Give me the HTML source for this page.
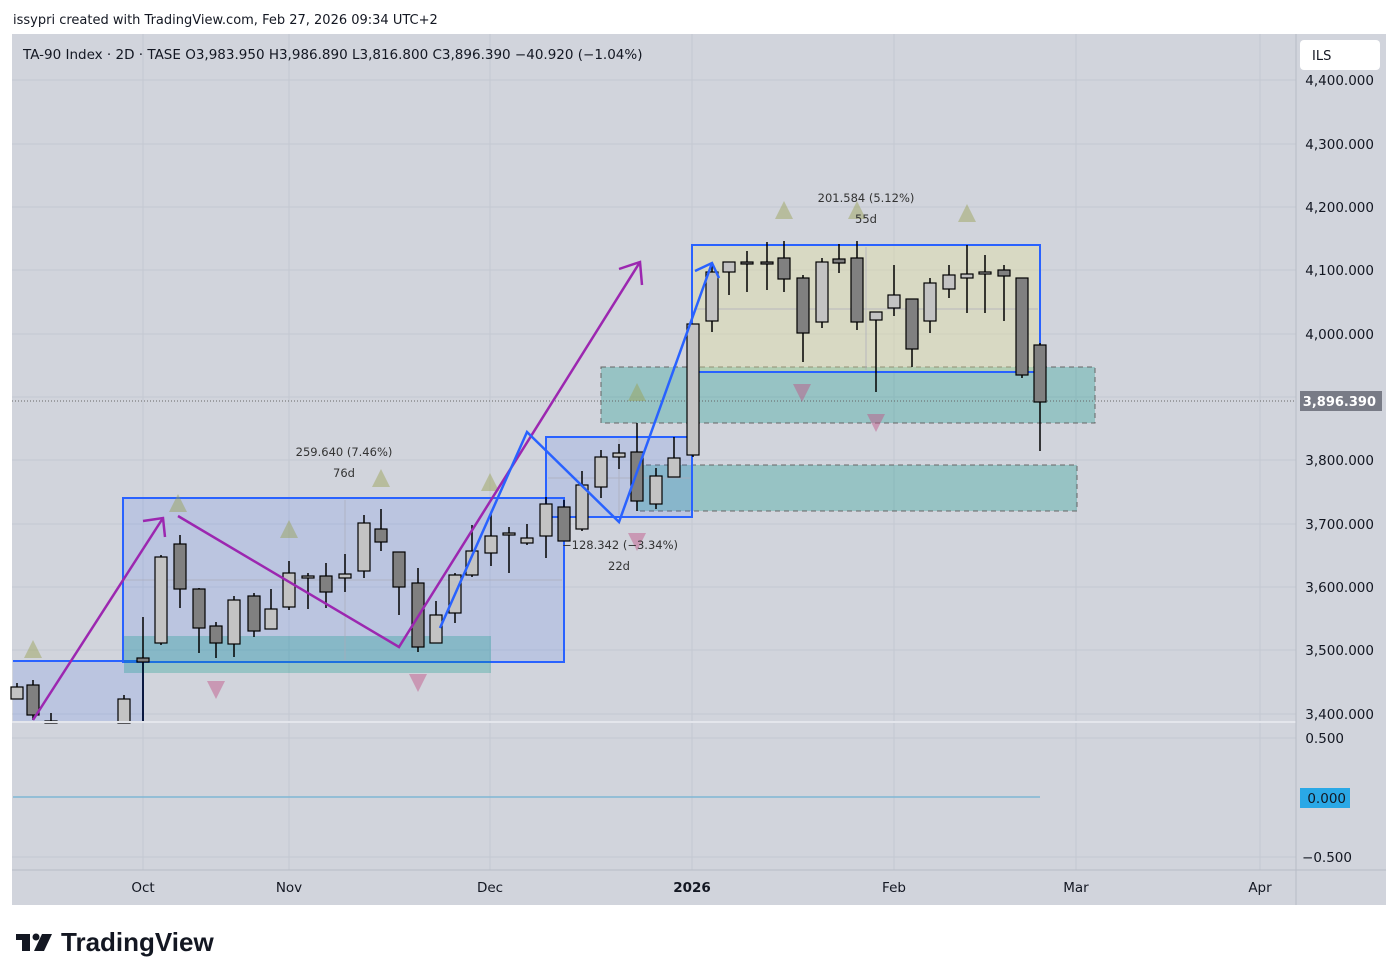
<!DOCTYPE html>
<html><head><meta charset="utf-8"><style>
body{margin:0;background:#fff;width:1399px;height:980px;overflow:hidden;font-family:"DejaVu Sans",sans-serif;}
svg{position:absolute;left:0;top:0}
</style></head><body>
<svg id="s" width="1399" height="980" xmlns="http://www.w3.org/2000/svg" font-family="DejaVu Sans, sans-serif">
<text x="13" y="24" font-size="13" fill="#131722">issypri created with TradingView.com, Feb 27, 2026 09:34 UTC+2</text>
<rect x="12" y="34" width="1374" height="871" fill="#d1d4dc"/>
<g stroke="#c4c8d2" stroke-width="1">
<line x1="12" x2="1296" y1="80" y2="80"/><line x1="12" x2="1296" y1="144" y2="144"/><line x1="12" x2="1296" y1="207" y2="207"/><line x1="12" x2="1296" y1="270" y2="270"/><line x1="12" x2="1296" y1="334" y2="334"/><line x1="12" x2="1296" y1="397" y2="397"/><line x1="12" x2="1296" y1="460" y2="460"/><line x1="12" x2="1296" y1="524" y2="524"/><line x1="12" x2="1296" y1="587" y2="587"/><line x1="12" x2="1296" y1="650" y2="650"/><line x1="12" x2="1296" y1="714" y2="714"/>
<line x1="12" x2="1296" y1="738" y2="738"/><line x1="12" x2="1296" y1="857" y2="857"/>
<line x1="143" x2="143" y1="34" y2="870"/><line x1="289" x2="289" y1="34" y2="870"/><line x1="490" x2="490" y1="34" y2="870"/><line x1="692" x2="692" y1="34" y2="870"/><line x1="894" x2="894" y1="34" y2="870"/><line x1="1076" x2="1076" y1="34" y2="870"/><line x1="1260" x2="1260" y1="34" y2="870"/>
</g>
<rect x="13" y="661" width="130" height="61" fill="rgba(41,98,255,0.13)"/>
<line x1="13" x2="143" y1="661" y2="661" stroke="#2962ff" stroke-width="2"/>
<line x1="143" x2="143" y1="661" y2="722" stroke="#2962ff" stroke-width="2"/>
<rect x="123" y="498" width="441" height="164" fill="rgba(41,98,255,0.13)" stroke="#2962ff" stroke-width="2"/>
<rect x="124" y="636" width="367" height="37" fill="rgba(0,150,136,0.28)"/>
<rect x="601" y="367" width="494" height="56" fill="rgba(0,150,136,0.28)" stroke="#666" stroke-dasharray="5,4"/>
<rect x="637" y="465" width="440" height="46" fill="rgba(0,150,136,0.28)" stroke="#666" stroke-dasharray="5,4"/>
<rect x="546" y="437" width="146" height="80" fill="rgba(41,98,255,0.13)" stroke="#2962ff" stroke-width="2"/>
<rect x="692" y="245" width="348" height="127" fill="rgba(230,225,150,0.35)" stroke="#2962ff" stroke-width="2"/>
<g stroke="#aab" stroke-width="1" opacity="0.7">
<line x1="345" x2="345" y1="500" y2="660"/><line x1="124" x2="562" y1="580" y2="580"/>
<line x1="866" x2="866" y1="247" y2="370"/><line x1="694" x2="1038" y1="309" y2="309"/>
<line x1="619" x2="619" y1="439" y2="515"/><line x1="548" x2="690" y1="478" y2="478"/>
</g>
<line x1="12" x2="1296" y1="401" y2="401" stroke="#666" stroke-dasharray="1,2"/>
<g fill="rgba(150,160,80,0.45)">
<polygon points="24,658 33,640 42,658"/><polygon points="169,512 178,494 187,512"/><polygon points="280,538 289,520 298,538"/><polygon points="372,487 381,469 390,487"/><polygon points="481,491 490,473 499,491"/><polygon points="628,401 637,383 646,401"/><polygon points="775,219 784,201 793,219"/><polygon points="848,219 857,201 866,219"/><polygon points="958,222 967,204 976,222"/>
</g>
<g fill="rgba(190,80,130,0.45)">
<polygon points="207,681 216,699 225,681"/><polygon points="409,674 418,692 427,674"/><polygon points="628,533 637,551 646,533"/><polygon points="793,384 802,402 811,384"/><polygon points="867,414 876,432 885,414"/>
</g>
<g id="c"></g>
<g stroke="#9c27b0" stroke-width="2.5" fill="none">
<polyline points="33,720 163,518"/><polyline points="143,521 163,518 165,537"/>
<polyline points="178,516 399,647 640,262"/><polyline points="619,269 640,262 642,285"/>
</g>
<g stroke="#2962ff" stroke-width="2.5" fill="none">
<polyline points="440,628 527,432 619,522 712,263"/><polyline points="695,271 712,263 719,278"/>
</g>
<g font-size="11.5" fill="#333" text-anchor="middle">
<text x="344" y="456">259.640 (7.46%)</text><text x="344" y="477">76d</text>
<text x="620" y="549">−128.342 (−3.34%)</text><text x="619" y="570">22d</text>
<text x="866" y="202">201.584 (5.12%)</text><text x="866" y="223">55d</text>
</g>
<line x1="13" x2="1040" y1="797" y2="797" stroke="#7fb6d4" stroke-width="1.5"/>
<line x1="12" x2="1296" y1="722" y2="722" stroke="#e4e6ec" stroke-width="2"/>
<line x1="1296" x2="1296" y1="34" y2="905" stroke="#b8bcc6"/>
<line x1="12" x2="1386" y1="870" y2="870" stroke="#b8bcc6"/>
<rect x="1300" y="40" width="80" height="30" rx="4" fill="#fff"/>
<text x="1312" y="60" font-size="13" fill="#131722">ILS</text>
<g font-size="13.5" fill="#131722" text-anchor="end">
<text x="1374" y="85">4,400.000</text><text x="1374" y="149">4,300.000</text><text x="1374" y="212">4,200.000</text><text x="1374" y="275">4,100.000</text><text x="1374" y="339">4,000.000</text><text x="1374" y="465">3,800.000</text><text x="1374" y="529">3,700.000</text><text x="1374" y="592">3,600.000</text><text x="1374" y="655">3,500.000</text><text x="1374" y="719">3,400.000</text>
<text x="1344" y="743">0.500</text><text x="1352" y="862">−0.500</text>
</g>
<rect x="1300" y="391" width="82" height="20" fill="#787b86"/>
<text x="1376" y="406" font-size="13" font-weight="bold" fill="#fff" text-anchor="end">3,896.390</text>
<rect x="1300" y="788" width="50" height="20" fill="#2aa8e6"/>
<text x="1346" y="803" font-size="13.5" fill="#131722" text-anchor="end">0.000</text>
<g font-size="13.5" fill="#131722" text-anchor="middle">
<text x="143" y="892">Oct</text><text x="289" y="892">Nov</text><text x="490" y="892">Dec</text><text x="692" y="892" font-weight="bold">2026</text><text x="894" y="892">Feb</text><text x="1076" y="892">Mar</text><text x="1260" y="892">Apr</text>
</g>
<text x="23" y="59" font-size="13.5" fill="#131722">TA-90 Index · 2D · TASE  O3,983.950  H3,986.890  L3,816.800  C3,896.390  −40.920 (−1.04%)</text>
<g fill="#131722"><rect x="16" y="934" width="14" height="6"/><rect x="22" y="934" width="8" height="17"/><circle cx="36" cy="937" r="3.5"/><polygon points="42,934 52,934 44,951 34,951"/></g>
<text x="61" y="951" font-size="26" font-weight="bold" fill="#131722" font-family="Liberation Sans, sans-serif">TradingView</text>
</svg>
<script>
var d=[[17,683,699,687,699,0],[33,680,720,685,715,1],[51,713,723,721,723,0],[124,695,723,699,723,0],[143,617,722,658,662,1],[161,555,645,557,643,0],[180,535,608,544,589,1],[199,588,653,589,628,1],[216,622,658,626,643,1],[234,596,657,600,644,0],[254,593,637,596,631,1],[271,589,629,609,629,0],[289,561,610,573,607,0],[308,573,609,576,578,0],[326,563,608,576,592,1],[345,554,592,574,578,0],[364,515,578,523,571,0],[381,509,551,529,542,1],[399,552,615,552,587,1],[418,568,652,583,647,1],[436,601,643,615,643,0],[455,573,623,575,613,0],[472,525,577,551,575,0],[491,513,566,536,553,0],[509,527,573,533,535,0],[527,524,545,538,543,0],[546,497,558,504,536,0],[564,500,541,507,541,1],[582,471,531,485,529,0],[601,450,498,457,487,0],[619,444,469,453,457,0],[637,423,511,452,501,1],[656,468,509,476,504,0],[674,437,477,458,477,0],[693,324,457,324,455,0],[712,263,332,272,321,0],[729,262,295,262,272,0],[747,251,292,262,264,1],[767,242,290,262,264,1],[784,241,292,258,279,1],[803,275,362,278,333,1],[822,258,328,262,322,0],[839,244,273,259,263,1],[857,241,330,258,322,1],[876,312,392,312,320,0],[894,265,316,295,308,0],[912,299,367,299,349,1],[930,278,333,283,321,0],[949,265,298,275,289,0],[967,245,313,274,278,0],[985,255,313,272,274,0],[1004,265,321,270,276,1],[1022,278,378,278,375,1],[1040,343,451,345,402,1]];
var h='';d.forEach(function(c){var x=c[0];h+='<line x1="'+x+'" x2="'+x+'" y1="'+c[1]+'" y2="'+c[2]+'" stroke="#000" stroke-width="1.5"/>';h+='<rect x="'+(x-6)+'" y="'+c[3]+'" width="12" height="'+Math.max(2,c[4]-c[3])+'" fill="'+(c[5]?'#808080':'#c3c3c3')+'" stroke="#000" stroke-width="1.2"/>';});
document.getElementById('c').innerHTML=h;
</script>
</body></html>
